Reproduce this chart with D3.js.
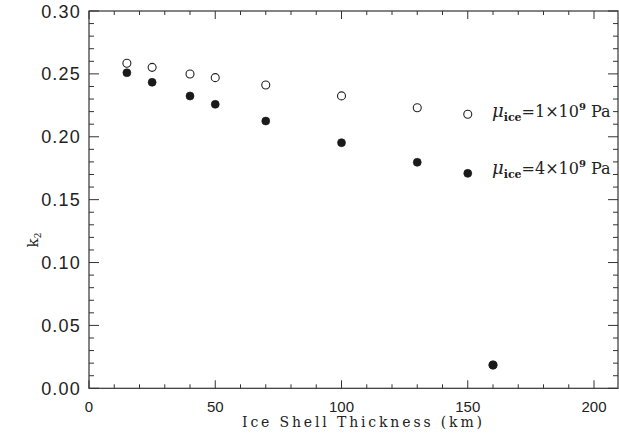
<!DOCTYPE html>
<html><head><meta charset="utf-8">
<script src="https://cdn.jsdelivr.net/npm/d3@7"></script>
<style>body{margin:0;background:#fff}svg{display:block}</style>
</head><body>
<svg id="c" width="619" height="438"></svg>
<script>
const thickness = [15, 25, 40, 50, 70, 100, 130, 150, 160];
const k2Soft = [0.2584, 0.2552, 0.2499, 0.2470, 0.2412, 0.2325, 0.2231, 0.2179, 0.0185];
const k2Stiff = [0.2509, 0.2433, 0.2324, 0.2258, 0.2125, 0.1953, 0.1797, 0.1709, 0.0185];
const xTicks = [0, 50, 100, 150, 200];
const yTicks = [0.00, 0.05, 0.10, 0.15, 0.20, 0.25, 0.30];

const svg = d3.select("#c");
const L = 89, R = 618, T = 11, B = 388.3;
const x = d3.scaleLinear().domain([0, 209.5]).range([L, R]);
const y = d3.scaleLinear().domain([0, 0.30]).range([B, T]);
const ax = "#333";

const g = svg.append("g");
// frame
g.append("rect").attr("x", L).attr("y", T).attr("width", R - L).attr("height", B - T)
  .attr("fill", "none").attr("stroke", ax).attr("stroke-width", 1.2);

const xMinor = d3.range(0, 210, 10);
const yMinor = d3.range(0, 0.3001, 0.01);
// x ticks bottom & top
g.selectAll(".xt").data(xMinor).join("line")
  .attr("x1", d => x(d)).attr("x2", d => x(d))
  .attr("y1", B).attr("y2", d => B - (d % 50 === 0 ? 8 : 4))
  .attr("stroke", ax).attr("stroke-width", 1);
g.selectAll(".xtt").data(xMinor).join("line")
  .attr("x1", d => x(d)).attr("x2", d => x(d))
  .attr("y1", T).attr("y2", d => T + (d % 50 === 0 ? 8 : 4))
  .attr("stroke", ax).attr("stroke-width", 1);
// y ticks left & right
g.selectAll(".yt").data(yMinor).join("line")
  .attr("y1", d => y(d)).attr("y2", d => y(d))
  .attr("x1", L).attr("x2", (d, i) => L + (i % 5 === 0 ? 10 : 5))
  .attr("stroke", ax).attr("stroke-width", 1);
g.selectAll(".ytr").data(yMinor).join("line")
  .attr("y1", d => y(d)).attr("y2", d => y(d))
  .attr("x1", R).attr("x2", (d, i) => R - (i % 5 === 0 ? 10 : 5))
  .attr("stroke", ax).attr("stroke-width", 1);

// tick labels
g.selectAll(".xl").data(xTicks).join("text")
  .attr("x", d => x(d)).attr("y", 412).attr("text-anchor", "middle")
  .attr("font-family", "Liberation Sans, Arial, sans-serif").attr("font-size", 15)
  .attr("fill", "#222").text(d => d);
g.selectAll(".yl").data(yTicks).join("text")
  .attr("x", 81).attr("y", d => y(d) + 6.5).attr("text-anchor", "end")
  .attr("font-family", "Liberation Sans, Arial, sans-serif").attr("font-size", 18)
  .attr("letter-spacing", 1.2)
  .attr("fill", "#222").text(d => d.toFixed(2));

// axis titles
g.append("text").attr("x", 362).attr("y", 427).attr("text-anchor", "middle")
  .attr("font-family", "DejaVu Serif, serif").attr("font-size", 14)
  .attr("textLength", 240).attr("lengthAdjust", "spacing")
  .attr("fill", "#222").text("Ice Shell Thickness (km)");
const yt = g.append("text").attr("transform", "translate(38,240) rotate(-90)")
  .attr("text-anchor", "middle").attr("font-family", "DejaVu Serif, serif")
  .attr("font-size", 15).attr("fill", "#222");
yt.append("tspan").text("k");
yt.append("tspan").attr("font-size", 9).attr("dy", 3).text("2");

// points
const soft = thickness.map((t, i) => ({t, v: k2Soft[i]}));
const stiff = thickness.map((t, i) => ({t, v: k2Stiff[i]}));
g.selectAll(".op").data(soft).join("circle")
  .attr("cx", d => x(d.t)).attr("cy", d => y(d.v)).attr("r", 4)
  .attr("fill", "#fff").attr("stroke", "#222").attr("stroke-width", 1.1);
g.selectAll(".fp").data(stiff).join("circle")
  .attr("cx", d => x(d.t)).attr("cy", d => y(d.v)).attr("r", 4)
  .attr("fill", "#1a1a1a").attr("stroke", "#1a1a1a").attr("stroke-width", 0.6);

// labels
function label(yy, val) {
  const t = g.append("text").attr("x", 492).attr("y", yy)
    .attr("font-family", "DejaVu Serif, serif").attr("font-size", 16).attr("fill", "#222");
  t.append("tspan").attr("font-style", "italic").attr("font-size", 18).text("μ");
  t.append("tspan").attr("font-size", 11).attr("font-weight", "bold").attr("dy", 4).text("ice");
  t.append("tspan").attr("dy", -4).text("=" + val + "×10");
  t.append("tspan").attr("font-size", 10).attr("font-weight", "bold").attr("dy", -7).text("9");
  t.append("tspan").attr("dy", 7).text(" Pa");
}
label(117, 1);
label(174, 4);
</script>
</body></html>
